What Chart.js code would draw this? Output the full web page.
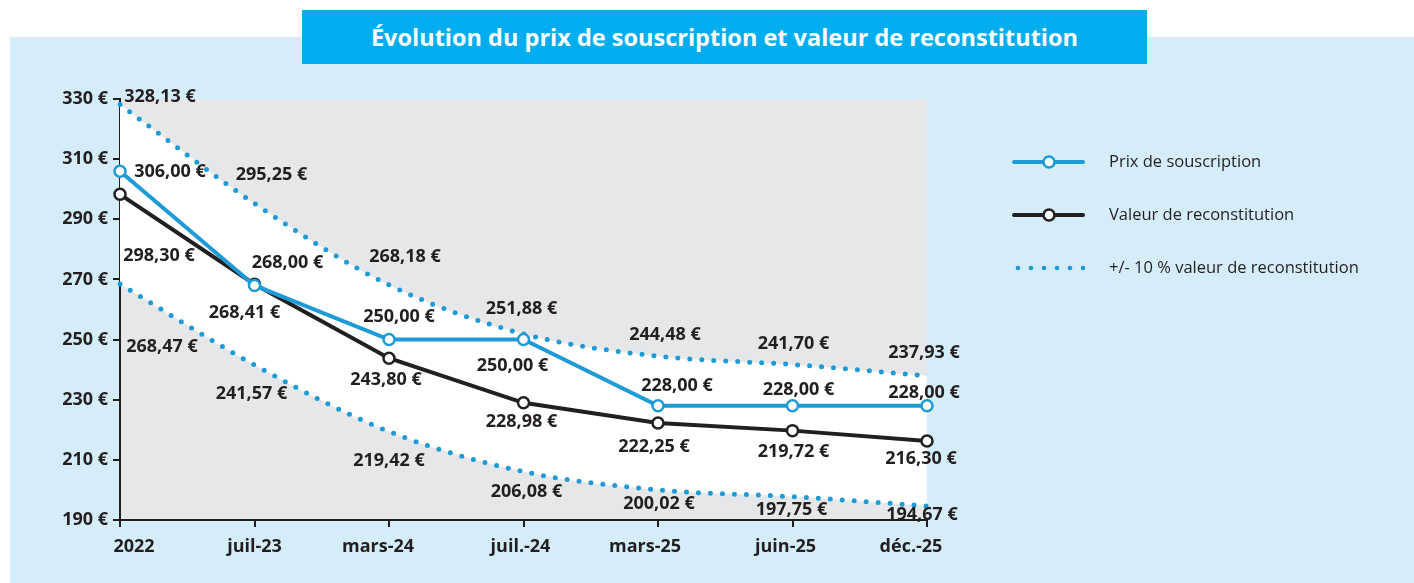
<!DOCTYPE html>
<html lang="fr">
<head>
<meta charset="utf-8">
<title>Évolution du prix de souscription et valeur de reconstitution</title>
<script src="https://cdn.jsdelivr.net/npm/chart.js@4.4.1/dist/chart.umd.min.js"></script>
<style>
  html, body { margin: 0; padding: 0; background: #ffffff; }
  body { width: 1414px; height: 583px; position: relative; overflow: hidden; font-family: "Open Sans", sans-serif; }
  #panel { position: absolute; left: 10px; top: 37px; right: 0; bottom: 0; background: #d5edf9; }
  #chart { position: absolute; left: 0; top: 0; }
  #title {
    position: absolute; left: 302px; top: 10px; width: 845px; height: 54px;
    background: #00aeef; color: #ffffff; font-weight: 700; font-size: 23.5px;
    line-height: 54px; text-align: center; z-index: 2;
  }
</style>
</head>
<body>
<div id="panel"></div>
<canvas id="chart" width="1414" height="583"></canvas>
<div id="title">Évolution du prix de souscription et valeur de reconstitution</div>
<script>
// Périodes de publication
const periods = ['2022', 'juil-23', 'mars-24', 'juil.-24', 'mars-25', 'juin-25', 'déc.-25'];

// Prix de souscription (€)
const prixSouscription = [306.00, 268.00, 250.00, 250.00, 228.00, 228.00, 228.00];

// Valeur de reconstitution (€)
const valeurReconstitution = [298.30, 268.41, 243.80, 228.98, 222.25, 219.72, 216.30];

// Bornes +10 % / -10 % de la valeur de reconstitution (€)
const borneHaute = [328.13, 295.25, 268.18, 251.88, 244.48, 241.70, 237.93];
const borneBasse = [268.47, 241.57, 219.42, 206.08, 200.02, 197.75, 194.67];

// Graduations de l'axe vertical
const yTickValues = [190, 210, 230, 250, 270, 290, 310, 330];

// Décalage des étiquettes de valeur par rapport à leur point (dx, dy en px)
const offsetsPrix = [[50, -1], [33, -24], [10, -24], [-11, 25], [19, -21], [6, -17], [-3, -14]];
const offsetsValeur = [[39, 60], [-10, 27], [-3, 20], [-2, 18], [-4, 23], [1, 20], [-6, 17]];
const offsetsHaute = [[40, -9], [17, -30], [16, -29], [-2, -26], [7, -23], [1, -22], [-3, -24]];
const offsetsBasse = [[42, 62], [-3, 28], [0, 28], [3, 19], [1, 13], [-1, 12], [-5, 8]];

// Décalage horizontal des libellés de période par rapport à leur graduation (px)
const periodLabelShift = [14, 0, -11, -3, -13, -7, -16];

const INK = '#231f20';
const BLUE = '#1e9ad6';
const FONT = '"Open Sans", "Noto Sans", sans-serif';

const fmtEuro = v => v.toFixed(2).replace('.', ',') + ' €';

// Fond gris de la zone de tracé
const plotBackground = {
  id: 'plotBackground',
  beforeDraw(chart) {
    const { ctx, chartArea: a } = chart;
    ctx.save();
    ctx.fillStyle = '#e6e7e8';
    ctx.fillRect(a.left, a.top, a.right - a.left, a.bottom - a.top);
    ctx.restore();
  }
};

// Libellés des périodes sous l'axe horizontal
const periodLabels = {
  id: 'periodLabels',
  afterDraw(chart) {
    const ctx = chart.ctx;
    const xs = chart.scales.x;
    const size = 18;
    ctx.save();
    ctx.font = `700 ${size}px ${FONT}`;
    ctx.fillStyle = INK;
    ctx.textAlign = 'center';
    ctx.textBaseline = 'alphabetic';
    chart.data.labels.forEach((lab, i) => {
      const x = xs.getPixelForValue(i) + periodLabelShift[i];
      ctx.fillText(lab, x, xs.top + 26 + size * 0.357);
    });
    ctx.restore();
  }
};

// Étiquettes de valeur à côté de chaque point
const valueLabels = {
  id: 'valueLabels',
  afterDraw(chart) {
    const ctx = chart.ctx;
    const size = 18;
    ctx.save();
    ctx.font = `700 ${size}px ${FONT}`;
    ctx.fillStyle = INK;
    ctx.textAlign = 'center';
    ctx.textBaseline = 'alphabetic';
    chart.data.datasets.forEach((ds, di) => {
      const meta = chart.getDatasetMeta(di);
      const offs = ds.labelOffsets;
      meta.data.forEach((pt, i) => {
        const [dx, dy] = offs[i];
        ctx.fillText(fmtEuro(ds.data[i]), pt.x + dx, pt.y + dy + size * 0.357);
      });
    });
    ctx.restore();
  }
};

// Légende à droite du graphique
const sideLegend = {
  id: 'sideLegend',
  afterDraw(chart) {
    const ctx = chart.ctx;
    const items = [
      { ds: chart.data.datasets[0], y: 162, kind: 'line' },
      { ds: chart.data.datasets[1], y: 215, kind: 'line' },
      { ds: chart.data.datasets[2], y: 268, kind: 'dots', text: '+/- 10 % valeur de reconstitution' }
    ];
    ctx.save();
    items.forEach(it => {
      const x0 = 1014, x1 = 1083, xm = 1049;
      if (it.kind === 'line') {
        ctx.strokeStyle = it.ds.borderColor;
        ctx.lineWidth = 4;
        ctx.lineCap = 'round';
        ctx.beginPath();
        ctx.moveTo(x0, it.y);
        ctx.lineTo(x1, it.y);
        ctx.stroke();
        ctx.beginPath();
        ctx.arc(xm, it.y, 5.5, 0, Math.PI * 2);
        ctx.fillStyle = '#ffffff';
        ctx.fill();
        ctx.lineWidth = 2.5;
        ctx.stroke();
      } else {
        ctx.fillStyle = it.ds.borderColor;
        for (let k = 0; k < 6; k++) {
          ctx.beginPath();
          ctx.arc(1018 + k * 13, it.y, 2.3, 0, Math.PI * 2);
          ctx.fill();
        }
      }
      ctx.fillStyle = INK;
      ctx.font = `400 16.5px ${FONT}`;
      ctx.textAlign = 'left';
      ctx.textBaseline = 'middle';
      ctx.fillText(it.text || it.ds.label, 1109, it.y);
    });
    ctx.restore();
  }
};

const axisStyle = {
  grid: { drawOnChartArea: false, drawTicks: true, tickLength: 7, color: INK, lineWidth: 2 },
  border: { display: true, color: INK, width: 2 }
};

function draw() {
  new Chart(document.getElementById('chart'), {
    type: 'line',
    data: {
      labels: periods,
      datasets: [
        {
          label: 'Prix de souscription',
          data: prixSouscription,
          borderColor: BLUE,
          borderWidth: 4,
          pointRadius: 5.5,
          pointBorderWidth: 2.5,
          pointBackgroundColor: '#ffffff',
          pointBorderColor: BLUE,
          tension: 0,
          fill: false,
          labelOffsets: offsetsPrix
        },
        {
          label: 'Valeur de reconstitution',
          data: valeurReconstitution,
          borderColor: INK,
          borderWidth: 4,
          pointRadius: 5.5,
          pointBorderWidth: 2.5,
          pointBackgroundColor: '#ffffff',
          pointBorderColor: INK,
          tension: 0,
          fill: false,
          labelOffsets: offsetsValeur
        },
        {
          label: '+10 % valeur de reconstitution',
          data: borneHaute,
          borderColor: BLUE,
          borderWidth: 5,
          borderDash: [0, 12],
          borderCapStyle: 'round',
          cubicInterpolationMode: 'monotone',
          pointRadius: 0,
          fill: '+1',
          backgroundColor: '#ffffff',
          labelOffsets: offsetsHaute
        },
        {
          label: '-10 % valeur de reconstitution',
          data: borneBasse,
          borderColor: BLUE,
          borderWidth: 5,
          borderDash: [0, 12],
          borderCapStyle: 'round',
          cubicInterpolationMode: 'monotone',
          pointRadius: 0,
          fill: false,
          labelOffsets: offsetsBasse
        }
      ]
    },
    options: {
      responsive: false,
      animation: false,
      devicePixelRatio: 1,
      layout: { padding: { top: 99, right: 487, bottom: 0, left: 0 } },
      plugins: {
        legend: { display: false },
        title: { display: false },
        tooltip: { enabled: false },
        filler: { drawTime: 'beforeDatasetsDraw' }
      },
      scales: {
        x: {
          type: 'category',
          offset: false,
          ...axisStyle,
          ticks: { display: false, autoSkip: false, maxRotation: 0 },
          afterFit(s) { s.height = 63; }
        },
        y: {
          min: 190,
          max: 330,
          ...axisStyle,
          afterBuildTicks(s) { s.ticks = yTickValues.map(v => ({ value: v })); },
          ticks: {
            color: INK,
            font: { family: FONT, size: 18, weight: '700' },
            padding: 5,
            callback: v => v + ' €'
          },
          afterFit(s) { s.width = 120; }
        }
      }
    },
    plugins: [plotBackground, periodLabels, valueLabels, sideLegend]
  });
}

const fontLoads = [
  `700 18px "Open Sans"`, `400 16px "Open Sans"`
].map(f => document.fonts.load(f).catch(() => null));
Promise.all(fontLoads).then(draw, draw);
</script>
</body>
</html>
